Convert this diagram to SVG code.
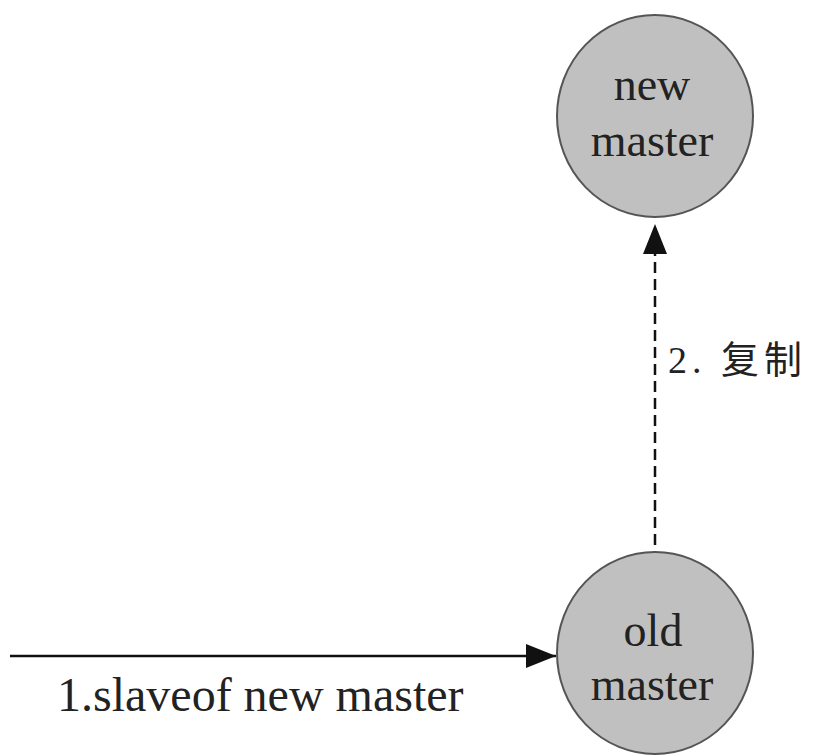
<svg xmlns="http://www.w3.org/2000/svg" width="818" height="756" viewBox="0 0 818 756">
<style>
.node{fill:#c0c0c0;stroke:#555;stroke-width:2}
.t{font-family:'Liberation Serif','Times New Roman',serif;fill:#222;text-anchor:middle}
.lbl{font-family:'Liberation Serif','Noto Sans CJK SC',serif;fill:#222}
.edge{stroke:#111;stroke-width:2.5;fill:none}
</style>
<defs>
<marker id="ah2" viewBox="0 0 30 24" refX="30" refY="12" markerWidth="30" markerHeight="24" orient="auto" markerUnits="userSpaceOnUse">
<path d="M0,0 L30,12 L0,24 z" fill="#111"/>
</marker>
</defs>
<rect width="818" height="756" fill="#fff"/>
<g id="connectors">
<line class="edge" x1="10" y1="656" x2="556" y2="656" marker-end="url(#ah2)"/>
<line class="edge" x1="655" y1="545" x2="655" y2="224" stroke-dasharray="11,6" marker-end="url(#ah2)"/>
</g>
<g id="new-master">
<ellipse class="node" cx="655" cy="116" rx="98" ry="101"/>
<text class="t" x="652" y="100" font-size="46">new</text>
<text class="t" x="652" y="156" font-size="46">master</text>
</g>
<g id="old-master">
<ellipse class="node" cx="655" cy="653" rx="98" ry="101"/>
<text class="t" x="653" y="646" font-size="46">old</text>
<text class="t" x="652" y="700" font-size="46">master</text>
</g>
<text class="lbl" x="57" y="711" font-size="48">1.slaveof new master</text>
<text class="lbl" x="668" y="373" font-size="38" letter-spacing="5">2. 复制</text>
</svg>
